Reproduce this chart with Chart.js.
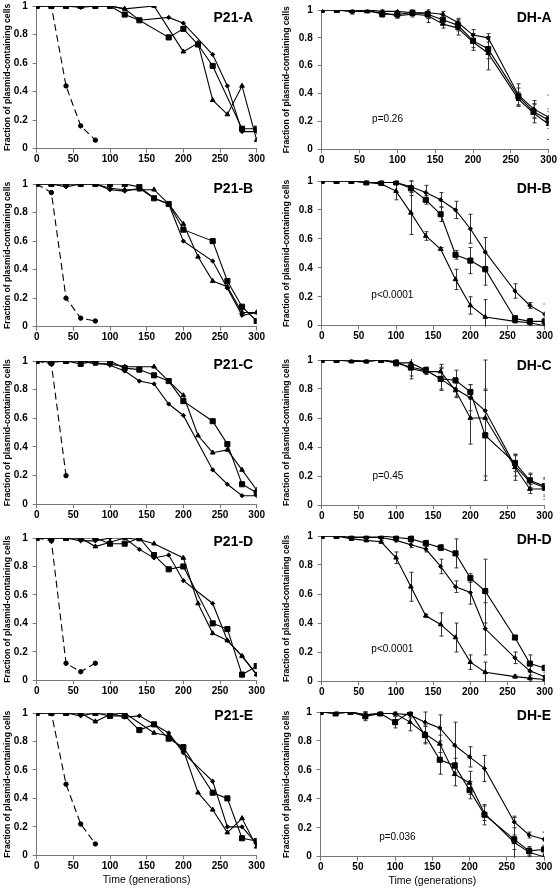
<!DOCTYPE html>
<html>
<head>
<meta charset="utf-8">
<script src="https://cdn.jsdelivr.net/npm/chart.js@4.4.1/dist/chart.umd.min.js"></script>
<style>
  html, body { margin: 0; padding: 0; background: #fff; overflow: hidden; }
  body { width: 558px; height: 893px; position: relative; }
  .panel { position: absolute; }
</style>
</head>
<body>
<script>
// time points (generations)
const genP21 = [0, 20, 40, 60, 80, 100, 120, 140, 160, 180, 200, 220, 240, 260, 280, 300];
const genDH = [0, 20, 40, 60, 80, 100, 120, 140, 160, 180, 200, 220, 260, 280, 300];
const genCtrl = [0, 20, 40, 60, 80];
const yTicks = [0, 0.2, 0.4, 0.6, 0.8, 1];
const xTicks = [0, 50, 100, 150, 200, 250, 300];

// P21 panels: three replicate lines + dashed control
const p21aDiamond  = [1, 1, 1, 0.99, 1, 1, 0.98, 0.90, null, 0.92, 0.88, null, 0.66, 0.44, 0.12, 0.12];
const p21aSquare   = [1, 1, 1, 1, 1, 1, 0.94, 0.90, null, 0.78, 0.84, 0.73, 0.58, null, 0.14, 0.14];
const p21aTriangle = [1, 1, 1, 1, 1, 1, 0.98, null, 1.0, null, 0.68, 0.74, 0.34, 0.24, 0.44, 0.06];
const p21aControl  = [1, 1, 0.44, 0.16, 0.06];

const p21bDiamond  = [1, 1, 0.98, 1, 1, 0.96, 0.95, 0.97, 0.90, 0.86, 0.60, null, 0.46, 0.27, 0.08, 0.10];
const p21bSquare   = [1, 1, 1, 1, 1, 1, 1, 0.98, 0.90, 0.86, 0.68, null, 0.60, 0.32, 0.14, 0.04];
const p21bTriangle = [1, 1, 1, 1, 1, 0.97, 0.96, 0.96, 0.96, 0.86, 0.72, 0.49, 0.32, 0.28, 0.10, 0.10];
const p21bControl  = [1, 0.94, 0.20, 0.06, 0.04];

const p21cDiamond  = [1, 1, 1, 1, 0.99, 0.97, 0.93, 0.86, 0.84, 0.70, 0.62, null, 0.24, 0.14, 0.06, 0.06];
const p21cSquare   = [1, 0.99, 1, 0.98, 1, 1, 0.95, 0.94, 0.90, 0.86, 0.72, null, 0.58, 0.42, 0.14, 0.08];
const p21cTriangle = [1, 1, 1, 1, 0.98, 0.98, 0.96, null, 0.96, 0.86, 0.76, 0.48, 0.36, 0.38, 0.24, 0.10];
const p21cControl  = [1, 0.98, 0.20];

const p21dDiamond  = [1, 1, 1, 0.98, 0.98, 1, 1, 0.92, 0.86, 0.88, 0.70, null, 0.54, 0.28, 0.17, 0.04];
const p21dSquare   = [1, 1, 1, 1, 1, 0.96, 0.96, 1, 0.88, 0.78, 0.80, null, 0.40, 0.36, 0.04, 0.10];
const p21dTriangle = [1, 1, 1, 1, 0.94, 0.97, 1, 0.99, 0.96, null, 0.86, 0.54, 0.33, 0.28, 0.17, 0.04];
const p21dControl  = [1, 0.98, 0.12, 0.06, 0.12];

const p21eDiamond  = [1, 1, 1, 0.98, 1, 1, 0.97, 0.98, null, 0.86, 0.72, null, 0.52, 0.20, 0.20, 0.08];
const p21eSquare   = [1, 1, 1, 1, 1, 0.98, 0.98, 0.88, 0.92, 0.82, 0.76, null, 0.44, 0.40, 0.12, 0.10];
const p21eTriangle = [1, 1, 1, 1, 0.94, 0.99, 1, null, 0.86, 0.84, 0.74, 0.44, 0.32, 0.16, 0.26, 0.06];
const p21eControl  = [1, 1, 0.50, 0.22, 0.08];

// DH panels: means and error bar half-lengths
const dhaDiamond  = [1, 1, 0.99, 1, 0.99, 0.99, 0.98, 0.98, 0.97, 0.91, 0.82, 0.80, 0.39, 0.29, 0.23];
const dhaSquare   = [1, 1, 1, 1, 0.97, 0.97, 0.98, 0.97, 0.93, 0.89, 0.78, 0.72, 0.38, 0.27, 0.21];
const dhaTriangle = [1, 1, 0.99, 0.99, 0.98, 0.96, 0.97, 0.96, 0.90, 0.87, 0.77, 0.69, 0.36, 0.26, 0.18];
const dhaDiamondErr  = [0.01, 0, 0.01, 0.01, 0.02, 0.02, 0.02, 0.04, 0.02, 0.03, 0.04, 0.03, 0.08, 0.06, 0.16];
const dhaSquareErr   = [0, 0, 0.02, 0.01, 0.02, 0.02, 0.02, 0.03, 0.03, 0.04, 0.05, 0.07, 0.06, 0.05, 0.06];
const dhaTriangleErr = [0.01, 0, 0.02, 0.01, 0.02, 0.02, 0.02, 0.05, 0.03, 0.05, 0.06, 0.12, 0.05, 0.07, 0.11];

const dhbDiamond  = [1, 1, 1, 0.99, 0.99, 0.99, 0.96, 0.92, 0.87, 0.80, 0.67, 0.51, 0.24, 0.14, 0.08];
const dhbSquare   = [1, 1, 1, 0.99, 0.99, 0.99, 0.95, 0.87, 0.77, 0.49, 0.45, 0.39, 0.05, 0.03, 0.03];
const dhbTriangle = [1, 1, 1, 0.99, 0.98, 0.93, 0.78, 0.62, 0.53, 0.32, 0.14, 0.06, 0.03, 0.02, 0.0];
const dhbDiamondErr  = [0, 0, 0, 0.01, 0.01, 0.01, 0.04, 0.05, 0.05, 0.06, 0.10, 0.10, 0.05, 0.02, 0.07];
const dhbSquareErr   = [0, 0, 0, 0.01, 0.01, 0.01, 0.05, 0.03, 0.05, 0.03, 0.09, 0.11, 0.02, 0.02, 0.03];
const dhbTriangleErr = [0, 0, 0, 0.01, 0.01, 0.06, 0.15, 0.03, 0.01, 0.07, 0.06, 0.12, 0.01, 0.02, 0];

const dhcDiamond  = [1, 1, 1, 0.99, 1, 0.98, 0.98, 0.93, 0.87, 0.80, 0.74, 0.65, 0.27, 0.16, 0.12];
const dhcSquare   = [1, 1, 1, 1, 1, 0.98, 0.95, 0.93, 0.87, 0.86, 0.78, 0.48, 0.29, 0.17, 0.13];
const dhcTriangle = [1, 1, 0.99, 0.99, 1, 0.99, 0.94, 0.92, 0.92, 0.79, 0.60, 0.60, 0.26, 0.11, 0.11];
const dhcDiamondErr  = [0, 0, 0.01, 0.01, 0, 0.02, 0.04, 0.02, 0.07, 0.05, 0.09, 0.15, 0.07, 0.05, 0.06];
const dhcSquareErr   = [0, 0, 0.01, 0.01, 0, 0.02, 0.06, 0.02, 0.08, 0.07, 0.05, 0.31, 0.06, 0.05, 0.06];
const dhcTriangleErr = [0, 0, 0.01, 0.01, 0, 0.03, 0.07, 0.02, 0.05, 0.05, 0.18, 0.40, 0.09, 0.03, 0.07];

const dhdDiamond  = [1, 1, 0.99, 0.99, 0.99, 0.97, 0.94, 0.91, 0.79, 0.65, 0.61, 0.36, 0.16, 0.07, 0.03];
const dhdSquare   = [1, 1, 1, 1, 1, 0.99, 0.98, 0.95, 0.92, 0.88, 0.71, 0.62, 0.30, 0.12, 0.09];
const dhdTriangle = [1, 1, 0.98, 0.97, 0.96, 0.85, 0.65, 0.45, 0.39, 0.30, 0.13, 0.06, 0.03, 0.02, 0.01];
const dhdDiamondErr  = [0, 0, 0.01, 0.01, 0.01, 0.01, 0.02, 0.02, 0.05, 0.04, 0.08, 0.18, 0.04, 0.05, 0.03];
const dhdSquareErr   = [0, 0, 0, 0, 0, 0.01, 0.02, 0.02, 0.02, 0.10, 0.03, 0.22, 0.01, 0.06, 0.02];
const dhdTriangleErr = [0, 0, 0.01, 0.01, 0.01, 0.04, 0.10, 0.01, 0.08, 0.10, 0.05, 0.07, 0.01, 0.02, 0.01];

const dheDiamond  = [1, 0.99, 1, 0.98, 0.99, 0.99, 0.98, 0.93, 0.89, 0.77, 0.69, 0.61, 0.24, 0.15, 0.12];
const dheSquare   = [1, 0.99, 1, 0.97, 0.99, 0.93, 1.0, 0.84, 0.67, 0.63, 0.46, 0.29, 0.12, 0.04, 0.05];
const dheTriangle = [1, 1, 1, 0.98, 0.99, 0.99, 0.93, 0.85, 0.78, 0.57, 0.51, 0.30, 0.10, 0.03, 0.0];
const dheDiamondErr  = [0, 0.01, 0, 0.02, 0.01, 0.01, 0.02, 0.07, 0.09, 0.16, 0.07, 0.09, 0.04, 0.02, 0.05];
const dheSquareErr   = [0, 0.01, 0, 0.03, 0.01, 0.04, 0.02, 0.06, 0.10, 0.05, 0.06, 0.07, 0.15, 0.03, 0.03];
const dheTriangleErr = [0, 0, 0, 0.02, 0.01, 0.02, 0.06, 0.06, 0.06, 0.08, 0.08, 0.05, 0.05, 0.03, 0];

const FONT = '"Liberation Sans", Arial, sans-serif';
const COL_W = 279;

// panel layout: plot box in page pixels [left, top, right, bottom]
const panels = [
  { name: 'P21-A', col: 0, box: [36.7, 5, 256.7, 148.7], lines: [p21aDiamond, p21aSquare, p21aTriangle], ctrl: p21aControl, nameDx: -3.5, nameDy: 12.5 },
  { name: 'DH-A', col: 1, box: [321.7, 9.3, 550.7, 149.3], lines: [dhaDiamond, dhaSquare, dhaTriangle], errs: [dhaDiamondErr, dhaSquareErr, dhaTriangleErr], p: 'p=0.26', pAt: [87, 0.215], nameDx: 3, nameDy: 8 },
  { name: 'P21-B', col: 0, box: [36.7, 183.3, 256.7, 326.7], lines: [p21bDiamond, p21bSquare, p21bTriangle], ctrl: p21bControl, nameDx: -3.5, nameDy: 5 },
  { name: 'DH-B', col: 1, box: [321.7, 180, 544.7, 325.7], lines: [dhbDiamond, dhbSquare, dhbTriangle], errs: [dhbDiamondErr, dhbSquareErr, dhbTriangleErr], p: 'p<0.0001', pAt: [95, 0.21], nameDx: 7, nameDy: 7.7 },
  { name: 'P21-C', col: 0, box: [36.7, 360.7, 256.7, 504.3], lines: [p21cDiamond, p21cSquare, p21cTriangle], ctrl: p21cControl, nameDx: -3.5, nameDy: 4.5 },
  { name: 'DH-C', col: 1, box: [321.7, 359.3, 544.7, 505], lines: [dhcDiamond, dhcSquare, dhcTriangle], errs: [dhcDiamondErr, dhcSquareErr, dhcTriangleErr], p: 'p=0.45', pAt: [89, 0.2], nameDx: 7, nameDy: 5.7 },
  { name: 'P21-D', col: 0, box: [36.7, 537, 256.7, 680.3], lines: [p21dDiamond, p21dSquare, p21dTriangle], ctrl: p21dControl, nameDx: -3.5, nameDy: 4 },
  { name: 'DH-D', col: 1, box: [321.7, 535.7, 544.7, 681], lines: [dhdDiamond, dhdSquare, dhdTriangle], errs: [dhdDiamondErr, dhdSquareErr, dhdTriangleErr], p: 'p<0.0001', pAt: [95, 0.22], nameDx: 7, nameDy: 4.3 },
  { name: 'P21-E', col: 0, box: [36.7, 712, 256.7, 855.3], lines: [p21eDiamond, p21eSquare, p21eTriangle], ctrl: p21eControl, nameDx: -3.5, nameDy: 3, last: true },
  { name: 'DH-E', col: 1, box: [320.7, 711, 544, 856.7], lines: [dheDiamond, dheSquare, dheTriangle], errs: [dheDiamondErr, dheSquareErr, dheTriangleErr], p: 'p=0.036', pAt: [103, 0.137], nameDx: 7, nameDy: 4, last: true }
];

const markers = [
  { pointStyle: 'rectRot', pointRadius: 2.1 },
  { pointStyle: 'rect', pointRadius: 3.6 },
  { pointStyle: 'triangle', pointRadius: 2.7 }
];

// error bars, panel name and p value
const panelExtras = {
  id: 'panelExtras',
  beforeDatasetsDraw(chart) {
    const { ctx, chartArea: a, scales: { x, y } } = chart;
    ctx.save();
    ctx.beginPath();
    ctx.rect(a.left, a.top - 1, a.right - a.left, a.bottom - a.top + 2);
    ctx.clip();
    ctx.strokeStyle = '#333';
    ctx.lineWidth = 1;
    chart.data.datasets.forEach(ds => {
      if (!ds.err) return;
      ds.data.forEach((pt, i) => {
        const e = ds.err[i];
        if (!e || pt.y == null) return;
        const px = Math.round(x.getPixelForValue(pt.x)) + 0.5;
        const y1 = y.getPixelForValue(pt.y + e);
        const y2 = y.getPixelForValue(pt.y - e);
        ctx.beginPath();
        ctx.moveTo(px, y1); ctx.lineTo(px, y2);
        ctx.moveTo(px - 2, y1); ctx.lineTo(px + 2, y1);
        ctx.moveTo(px - 2, y2); ctx.lineTo(px + 2, y2);
        ctx.stroke();
      });
    });
    ctx.restore();
  },
  afterDatasetsDraw(chart, args, opts) {
    const { ctx, chartArea: a, scales: { x, y } } = chart;
    ctx.save();
    ctx.fillStyle = '#000';
    ctx.font = 'bold 14px ' + FONT;
    ctx.textAlign = 'right';
    ctx.textBaseline = 'middle';
    ctx.fillText(opts.name, a.right + opts.nameDx, a.top + opts.nameDy);
    if (opts.p) {
      ctx.font = '10px ' + FONT;
      ctx.textAlign = 'center';
      ctx.fillText(opts.p, x.getPixelForValue(opts.pAt[0]), y.getPixelForValue(opts.pAt[1]));
    }
    ctx.restore();
  }
};

function toPoints(xs, ys) {
  return xs.map((x, i) => ({ x: x, y: ys[i] }));
}

function drawPanel(p) {
  const colLeft = p.col * COL_W;
  const [bl, bt, br, bb] = p.box;
  const top = Math.floor(bt) - 10;
  const xh = p.last ? 35 : 22;
  const h = Math.ceil(bb + xh - top);

  const div = document.createElement('div');
  div.className = 'panel';
  div.style.left = colLeft + 'px';
  div.style.top = top + 'px';
  const canvas = document.createElement('canvas');
  canvas.width = COL_W;
  canvas.height = h;
  canvas.style.width = COL_W + 'px';
  canvas.style.height = h + 'px';
  div.appendChild(canvas);
  document.body.appendChild(div);

  const xs = p.errs ? genDH : genP21;
  const datasets = p.lines.map((ys, k) => ({
    data: toPoints(xs, ys),
    err: p.errs ? p.errs[k] : null,
    borderColor: '#000',
    borderWidth: 1.1,
    pointBackgroundColor: '#000',
    pointBorderColor: '#000',
    pointBorderWidth: 1,
    spanGaps: true,
    ...markers[k]
  }));
  if (p.ctrl) {
    datasets.push({
      data: toPoints(genCtrl, p.ctrl),
      borderColor: '#000',
      borderWidth: 1.1,
      borderDash: [7, 4],
      pointStyle: 'circle',
      pointRadius: 2.2,
      pointBackgroundColor: '#000',
      pointBorderColor: '#000',
      pointBorderWidth: 1
    });
  }

  new Chart(canvas, {
    type: 'line',
    data: { datasets: datasets },
    plugins: [panelExtras],
    options: {
      responsive: false,
      animation: false,
      events: [],
      layout: {
        padding: {
          left: 0,
          top: bt - top,
          right: colLeft + COL_W - br,
          bottom: h - (bb - top) - xh
        }
      },
      plugins: {
        legend: { display: false },
        tooltip: { enabled: false },
        panelExtras: { name: p.name, nameDx: p.nameDx, nameDy: p.nameDy, p: p.p, pAt: p.pAt }
      },
      scales: {
        x: {
          type: 'linear',
          min: 0,
          max: 300,
          afterBuildTicks: s => { s.ticks = xTicks.map(v => ({ value: v })); },
          afterFit: s => { s.height = xh; },
          ticks: {
            autoSkip: false,
            maxRotation: 0,
            padding: 1,
            color: '#000',
            font: { family: FONT, size: 10, weight: 'bold' }
          },
          grid: { drawOnChartArea: false, drawTicks: true, tickLength: 4, color: '#777' },
          border: { display: true, color: '#777', width: 1 },
          title: {
            display: !!p.last,
            text: 'Time (generations)',
            color: '#000',
            font: { family: FONT, size: 10.5 },
            padding: { top: 4, bottom: 4 }
          }
        },
        y: {
          type: 'linear',
          min: 0,
          max: 1,
          afterBuildTicks: s => { s.ticks = yTicks.map(v => ({ value: v })); },
          afterFit: s => { s.width = bl - colLeft; },
          ticks: {
            padding: 5,
            color: '#000',
            font: { family: FONT, size: 10, weight: 'bold' },
            callback: v => String(+v.toFixed(1))
          },
          grid: { drawOnChartArea: false, drawTicks: true, tickLength: 4, color: '#777' },
          border: { display: true, color: '#777', width: 1 },
          title: {
            display: true,
            text: 'Fraction of plasmid-containing cells',
            color: '#000',
            font: { family: FONT, size: 8.6, weight: 'bold' },
            padding: { top: 2, bottom: 0 }
          }
        }
      }
    }
  });
}

panels.forEach(drawPanel);
</script>
</body>
</html>
